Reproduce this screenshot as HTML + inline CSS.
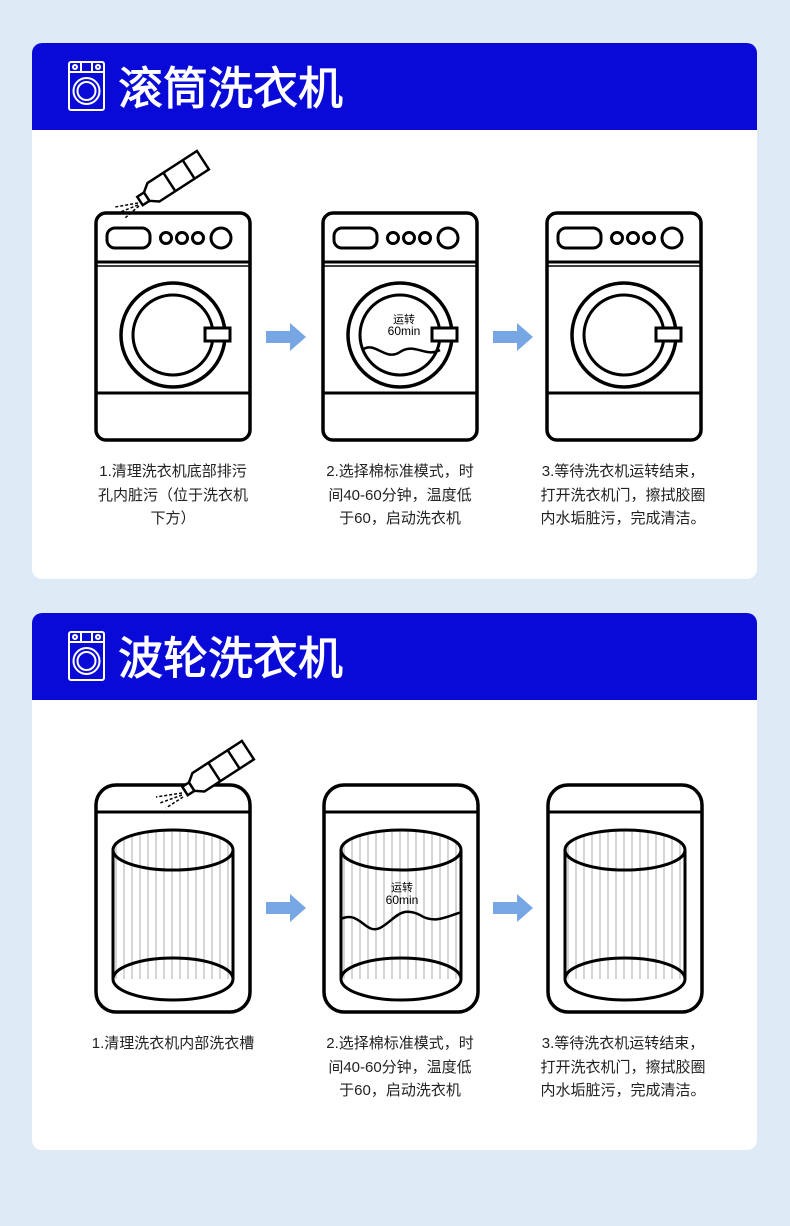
<!DOCTYPE html>
<html><head><meta charset="utf-8"><style>
body{margin:0;background:#deebf7;width:790px;height:1221px;overflow:hidden;font-family:"Liberation Sans","Noto Sans CJK SC",sans-serif}
</style></head><body>
<svg width="790" height="1221" viewBox="0 0 790 1221" xmlns="http://www.w3.org/2000/svg" font-family="Liberation Sans, Noto Sans CJK SC, sans-serif">
<defs>
<pattern id="str" width="8" height="10" patternUnits="userSpaceOnUse"><rect x="3" width="2" height="10" fill="#d6d6d6"/></pattern>
<g id="front">
<rect x="96" y="213" width="154" height="227" rx="10" fill="#fff" stroke="#000" stroke-width="3.5"/>
<line x1="96" y1="262" x2="250" y2="262" stroke="#000" stroke-width="3"/>
<line x1="96" y1="266" x2="250" y2="266" stroke="#000" stroke-width="1.5"/>
<line x1="96" y1="393" x2="250" y2="393" stroke="#000" stroke-width="3"/>
<rect x="107" y="228" width="43" height="20" rx="8" fill="none" stroke="#000" stroke-width="3"/>
<circle cx="166" cy="238" r="5.5" fill="none" stroke="#000" stroke-width="3"/>
<circle cx="182" cy="238" r="5.5" fill="none" stroke="#000" stroke-width="3"/>
<circle cx="198" cy="238" r="5.5" fill="none" stroke="#000" stroke-width="3"/>
<circle cx="221" cy="238" r="10" fill="none" stroke="#000" stroke-width="3"/>
<circle cx="173" cy="335" r="52" fill="none" stroke="#000" stroke-width="3.5"/>
<circle cx="173" cy="335" r="40" fill="none" stroke="#000" stroke-width="3"/>
<rect x="205" y="328" width="25" height="13" fill="#fff" stroke="#000" stroke-width="3"/>
</g>
<g id="top">
<path d="M116 1012 a20 20 0 0 1 -20 -20 V805 a20 20 0 0 1 20 -20 H230 a20 20 0 0 1 20 20 V992 a20 20 0 0 1 -20 20 Z" fill="#fff" stroke="#000" stroke-width="3.5"/>
<line x1="96" y1="812" x2="250" y2="812" stroke="#000" stroke-width="3"/>
<rect x="113" y="850" width="120" height="129" fill="url(#str)"/>
<ellipse cx="173" cy="850" rx="60" ry="20" fill="url(#str)" stroke="#000" stroke-width="3"/>
<ellipse cx="173" cy="979" rx="60" ry="21" fill="none" stroke="#000" stroke-width="3"/>
<line x1="113" y1="850" x2="113" y2="979" stroke="#000" stroke-width="3"/>
<line x1="233" y1="850" x2="233" y2="979" stroke="#000" stroke-width="3"/>
</g>
<g id="arrow"><path d="M266 331 H290 V323 L306 337 L290 351 V343 H266 Z" fill="#77a6e4"/></g>
</defs>

<rect x="32" y="43" width="725" height="536" rx="10" fill="#fff"/>
<path d="M32 130 V53 a10 10 0 0 1 10 -10 H747 a10 10 0 0 1 10 10 V130 Z" fill="#0a0ad8"/>
<rect x="32" y="613" width="725" height="537" rx="10" fill="#fff"/>
<path d="M32 700 V623 a10 10 0 0 1 10 -10 H747 a10 10 0 0 1 10 10 V700 Z" fill="#0a0ad8"/>

<g fill="none" stroke="#fff" stroke-width="2">
<rect x="69" y="62" width="35" height="48" rx="2"/>
<line x1="69" y1="72" x2="104" y2="72"/>
<circle cx="75" cy="67" r="2"/><circle cx="98" cy="67" r="2"/><line x1="81" y1="62" x2="81" y2="72"/><line x1="92" y1="62" x2="92" y2="72"/>
<circle cx="86.5" cy="91" r="13"/><circle cx="86.5" cy="91" r="9"/>
</g>
<g transform="translate(0,570)" fill="none" stroke="#fff" stroke-width="2">
<rect x="69" y="62" width="35" height="48" rx="2"/>
<line x1="69" y1="72" x2="104" y2="72"/>
<circle cx="75" cy="67" r="2"/><circle cx="98" cy="67" r="2"/><line x1="81" y1="62" x2="81" y2="72"/><line x1="92" y1="62" x2="92" y2="72"/>
<circle cx="86.5" cy="91" r="13"/><circle cx="86.5" cy="91" r="9"/>
</g>
<text x="118" y="104" font-size="45" fill="#fff" stroke="#fff" stroke-width="0.9">滚筒洗衣机</text>
<text x="118" y="674" font-size="45" fill="#fff" stroke="#fff" stroke-width="0.9">波轮洗衣机</text>

<use href="#front"/>
<use href="#front" transform="translate(227,0)"/>
<use href="#front" transform="translate(451,0)"/>
<use href="#arrow"/>
<use href="#arrow" transform="translate(227,0)"/>
<path d="M362 350 C375 340 385 362 400 352 C415 342 425 358 440 350" fill="none" stroke="#000" stroke-width="2.5"/>
<text x="404" y="323" font-size="11" text-anchor="middle">运转</text>
<text x="404" y="335" font-size="12" text-anchor="middle">60min</text>

<g transform="translate(140,201) rotate(-33)" fill="#fff" stroke="#000" stroke-width="2.5">
<rect x="0" y="-5" width="8" height="10"/>
<path d="M8 -5 L16 -11 H75 V11 H16 L8 5 Z"/>
<line x1="35" y1="-11" x2="35" y2="11"/><line x1="58" y1="-11" x2="58" y2="11"/>
</g>
<g stroke="#000" stroke-width="1.5" stroke-dasharray="3,2"><line x1="138" y1="203" x2="115" y2="207"/><line x1="138" y1="205" x2="118" y2="213"/><line x1="139" y1="206" x2="125" y2="218"/></g>

<use href="#top"/>
<use href="#top" transform="translate(228,0)"/>
<use href="#top" transform="translate(452,0)"/>
<use href="#arrow" transform="translate(0,571)"/>
<use href="#arrow" transform="translate(227,571)"/>
<path d="M341 919 C360 910 365 935 380 928 C395 920 400 905 420 915 C435 925 450 915 462 912" fill="none" stroke="#000" stroke-width="2.5"/>
<text x="402" y="891" font-size="11" text-anchor="middle">运转</text>
<text x="402" y="904" font-size="12" text-anchor="middle">60min</text>
<g transform="translate(185,791) rotate(-33)" fill="#fff" stroke="#000" stroke-width="2.5">
<rect x="0" y="-5" width="8" height="10"/>
<path d="M8 -5 L16 -11 H75 V11 H16 L8 5 Z"/>
<line x1="35" y1="-11" x2="35" y2="11"/><line x1="58" y1="-11" x2="58" y2="11"/>
</g>
<g stroke="#000" stroke-width="1.5" stroke-dasharray="3,2"><line x1="182" y1="793" x2="156" y2="797"/><line x1="182" y1="795" x2="160" y2="803"/><line x1="183" y1="797" x2="166" y2="808"/></g>

<g font-size="15" fill="#222" text-anchor="middle">
<text x="173" y="476">1.清理洗衣机底部排污</text>
<text x="173" y="500">孔内脏污（位于洗衣机</text>
<text x="173" y="523">下方）</text>
<text x="400" y="476">2.选择棉标准模式，时</text>
<text x="400" y="500">间40-60分钟，温度低</text>
<text x="400" y="523">于60，启动洗衣机</text>
<text x="623" y="476">3.等待洗衣机运转结束，</text>
<text x="623" y="500">打开洗衣机门，擦拭胶圈</text>
<text x="623" y="523">内水垢脏污，完成清洁。</text>
<text x="173" y="1048">1.清理洗衣机内部洗衣槽</text>
<text x="400" y="1048">2.选择棉标准模式，时</text>
<text x="400" y="1072">间40-60分钟，温度低</text>
<text x="400" y="1095">于60，启动洗衣机</text>
<text x="623" y="1048">3.等待洗衣机运转结束，</text>
<text x="623" y="1072">打开洗衣机门，擦拭胶圈</text>
<text x="623" y="1095">内水垢脏污，完成清洁。</text>
</g>
</svg>
</body></html>
